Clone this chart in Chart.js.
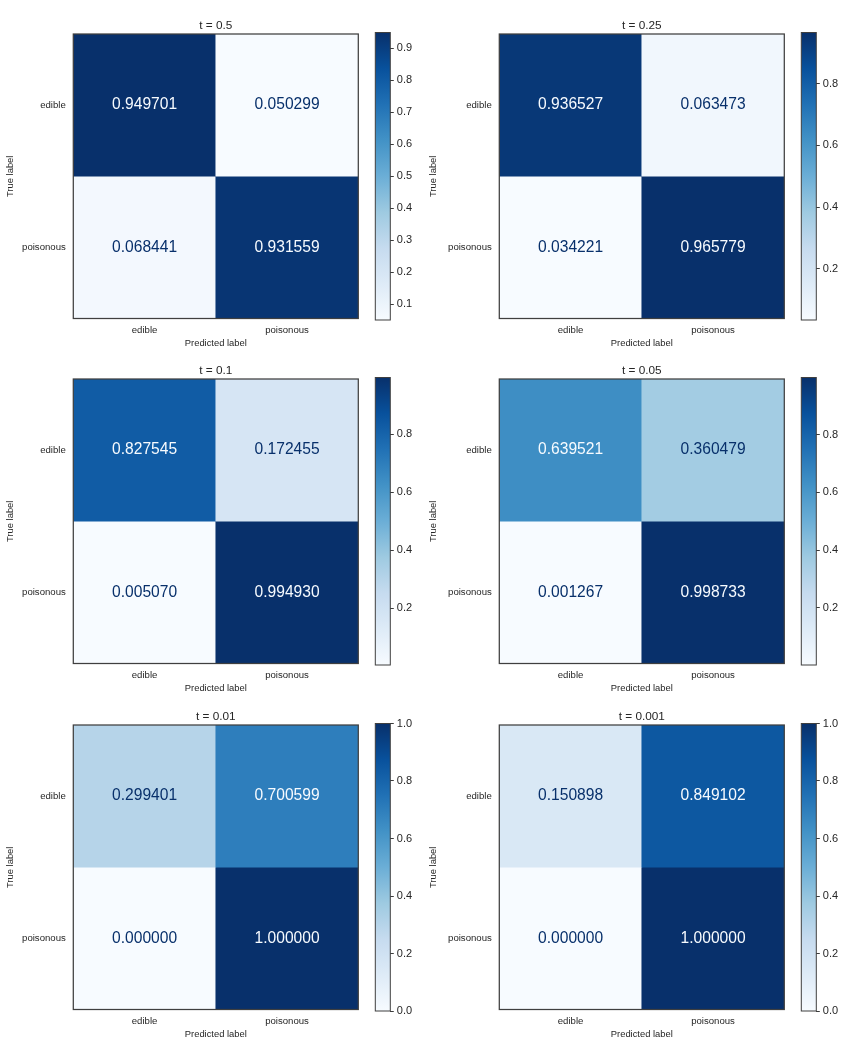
<!DOCTYPE html>
<html>
<head>
<meta charset="utf-8">
<script src="https://cdn.jsdelivr.net/npm/chart.js@4/dist/chart.umd.min.js"></script>
<style>
html, body { margin: 0; padding: 0; background: #ffffff; overflow: hidden; }
#fig { position: relative; width: 846px; height: 1045px; overflow: hidden; background: #ffffff; }
#fig canvas { position: absolute; }
</style>
</head>
<body>
<div id="fig"></div>
<script>
// ---------------- data ----------------
const categories = ['edible', 'poisonous'];
const panelTitles = ['t = 0.5', 't = 0.25', 't = 0.1', 't = 0.05', 't = 0.01', 't = 0.001'];

// rows = true label (edible, poisonous), columns = predicted label (edible, poisonous)
const cm_t0_5   = [[0.949701, 0.050299], [0.068441, 0.931559]];
const cm_t0_25  = [[0.936527, 0.063473], [0.034221, 0.965779]];
const cm_t0_1   = [[0.827545, 0.172455], [0.005070, 0.994930]];
const cm_t0_05  = [[0.639521, 0.360479], [0.001267, 0.998733]];
const cm_t0_01  = [[0.299401, 0.700599], [0.000000, 1.000000]];
const cm_t0_001 = [[0.150898, 0.849102], [0.000000, 1.000000]];

// colorbar tick labels
const cbTicks_t0_5   = [0.1, 0.2, 0.3, 0.4, 0.5, 0.6, 0.7, 0.8, 0.9];
const cbTicks_t0_25  = [0.2, 0.4, 0.6, 0.8];
const cbTicks_t0_1   = [0.2, 0.4, 0.6, 0.8];
const cbTicks_t0_05  = [0.2, 0.4, 0.6, 0.8];
const cbTicks_t0_01  = [0.0, 0.2, 0.4, 0.6, 0.8, 1.0];
const cbTicks_t0_001 = [0.0, 0.2, 0.4, 0.6, 0.8, 1.0];

const matrices = [cm_t0_5, cm_t0_25, cm_t0_1, cm_t0_05, cm_t0_01, cm_t0_001];
const cbTicks = [cbTicks_t0_5, cbTicks_t0_25, cbTicks_t0_1, cbTicks_t0_05, cbTicks_t0_01, cbTicks_t0_001];

// ---------------- styling / layout ----------------
const FONT = '"Liberation Sans", Arial, Helvetica, sans-serif';
const TXT = '#262626';
const EDGE = '#3f3f3f';
Chart.defaults.font.family = FONT;
Chart.defaults.color = TXT;

// matplotlib "Blues" colormap anchors
const BLUES = ['#f7fbff', '#deebf7', '#c6dbef', '#9ecae1', '#6baed6', '#4292c6', '#2171b5', '#08519c', '#08306b'];
function hex2rgb(h) { return [parseInt(h.slice(1, 3), 16), parseInt(h.slice(3, 5), 16), parseInt(h.slice(5, 7), 16)]; }
function blues(t) {
  t = Math.max(0, Math.min(1, t));
  const p = t * (BLUES.length - 1);
  const i = Math.min(Math.floor(p), BLUES.length - 2);
  const f = p - i;
  const a = hex2rgb(BLUES[i]), b = hex2rgb(BLUES[i + 1]);
  const c = a.map((v, k) => Math.round(v + (b[k] - v) * f));
  return 'rgb(' + c.join(',') + ')';
}

const colLeft = [0, 423];        // matrix canvas left per column
const yAxisW = [73.3, 76.3];     // width of the left (tick label) area per column
const plotW = 285;
const rowTop = [0, 345, 691];    // canvas top per row
const CANVAS_H = 349;
const TITLE_H = 34;              // title box height -> plot top
const XAXIS_H = 30;
const cbLeft = [362, 788];
const CB_W = 58;
const TITLE_SIZE = 11.8;
const TITLE_GAP = 8;             // from title centre to plot top

const fig = document.getElementById('fig');
function addCanvas(left, top, w, h) {
  const c = document.createElement('canvas');
  c.width = w; c.height = h;
  c.style.left = left + 'px'; c.style.top = top + 'px';
  c.style.width = w + 'px'; c.style.height = h + 'px';
  fig.appendChild(c);
  return c;
}

const cellPlugin = {
  id: 'cellPlugin',
  afterDatasetsDraw(chart) {
    const ctx = chart.ctx;
    const thr = chart.options.plugins.cellPlugin.thresh;
    ctx.save();
    ctx.font = '15.6px ' + FONT;
    ctx.textAlign = 'center';
    ctx.textBaseline = 'middle';
    chart.data.datasets.forEach((ds, di) => {
      const meta = chart.getDatasetMeta(di);
      meta.data.forEach((bar, j) => {
        const v = ds.values[j];
        ctx.fillStyle = v < thr ? BLUES[8] : BLUES[0];
        ctx.fillText(v.toFixed(6), bar.x, (bar.y + bar.base) / 2);
      });
    });
    ctx.restore();
  },
  afterDraw(chart) {
    const a = chart.chartArea, ctx = chart.ctx;
    ctx.save();
    ctx.strokeStyle = EDGE;
    ctx.lineWidth = chart.options.plugins.cellPlugin.edge;
    ctx.strokeRect(a.left, a.top, a.right - a.left, a.bottom - a.top);
    ctx.restore();
  }
};

function makeMatrix(k) {
  const cm = matrices[k];
  const col = k % 2, row = Math.floor(k / 2);
  const flat = cm.flat();
  const vmin = Math.min(...flat), vmax = Math.max(...flat);
  const yw = yAxisW[col];
  const W = Math.ceil(yw * 2 + plotW);
  const canvas = addCanvas(colLeft[col], rowTop[row], W, CANVAS_H);
  const tickFont = { family: FONT, size: 9.6 };
  const halfTitle = TITLE_SIZE * 1.2 / 2;
  new Chart(canvas, {
    type: 'bar',
    data: {
      labels: categories,
      datasets: cm.map((rowVals, i) => ({
        label: categories[i],
        xAxisID: 'x', yAxisID: 'y',
        data: rowVals.map(() => [i - 0.5, i + 0.5]),
        values: rowVals,
        backgroundColor: rowVals.map(v => blues((v - vmin) / (vmax - vmin))),
        borderWidth: 0,
        barPercentage: 1, categoryPercentage: 1, grouped: false
      }))
    },
    options: {
      responsive: false, animation: false, maintainAspectRatio: false,
      devicePixelRatio: 1,
      events: [],
      layout: { padding: { left: 0, right: W - (yw * 2 + plotW), top: 0, bottom: 0.5 } },
      plugins: {
        legend: { display: false }, tooltip: { enabled: false },
        title: {
          display: true, text: panelTitles[k], color: TXT,
          font: { family: FONT, size: TITLE_SIZE, weight: 'normal' },
          padding: { top: TITLE_H - TITLE_GAP - halfTitle, bottom: TITLE_GAP - halfTitle }
        },
        cellPlugin: { thresh: (vmin + vmax) / 2, edge: 1.25 }
      },
      scales: {
        x: {
          type: 'category', position: 'bottom',
          grid: { display: false, drawTicks: false }, border: { display: false },
          ticks: { font: tickFont, color: TXT, padding: 6.5, maxRotation: 0, autoSkip: false },
          title: { display: true, text: 'Predicted label', color: TXT, font: { family: FONT, size: 9.4 }, padding: { top: 0, bottom: -0.5 } },
          afterFit: s => { s.height = XAXIS_H; }
        },
        y: {
          type: 'linear', position: 'left', reverse: true, min: -0.5, max: 1.5,
          grid: { display: false, drawTicks: false }, border: { display: false },
          afterBuildTicks: s => { s.ticks = categories.map((c, i) => ({ value: i })); },
          ticks: { font: tickFont, color: TXT, padding: 7.5, callback: v => categories[v] },
          title: { display: true, text: 'True label', color: TXT, font: { family: FONT, size: 9.4 }, padding: { top: 4.3, bottom: 0 } },
          afterFit: s => { s.width = yw; }
        },
        yr: {
          type: 'linear', position: 'right', display: true,
          grid: { display: false, drawTicks: false }, border: { display: false },
          ticks: { display: false },
          afterFit: s => { s.width = yw; }
        }
      }
    },
    plugins: [cellPlugin]
  });
}

const cbPlugin = {
  id: 'cbPlugin',
  afterDraw(chart) {
    const a = chart.chartArea, ctx = chart.ctx;
    ctx.save();
    ctx.strokeStyle = EDGE;
    ctx.lineWidth = 1;
    ctx.strokeRect(a.left, a.top, a.right - a.left, a.bottom - a.top);
    ctx.restore();
  }
};

function makeColorbar(k) {
  const cm = matrices[k];
  const col = k % 2, row = Math.floor(k / 2);
  const flat = cm.flat();
  const vmin = Math.min(...flat), vmax = Math.max(...flat);
  const ticks = cbTicks[k];
  const canvas = addCanvas(cbLeft[col], rowTop[row], CB_W, CANVAS_H);
  const padL = (col === 0 ? 375.3 - cbLeft[0] : 801.3 - cbLeft[1]);
  const axisW = 29;
  new Chart(canvas, {
    type: 'bar',
    data: {
      labels: [''],
      datasets: [{
        data: [[vmin, vmax]],
        backgroundColor: (ctx) => {
          const ch = ctx.chart, a = ch.chartArea;
          if (!a) return BLUES[4];
          const g = ch.ctx.createLinearGradient(0, a.bottom, 0, a.top);
          BLUES.forEach((c, i) => g.addColorStop(i / (BLUES.length - 1), c));
          return g;
        },
        borderWidth: 0,
        barPercentage: 1, categoryPercentage: 1
      }]
    },
    options: {
      responsive: false, animation: false, maintainAspectRatio: false,
      devicePixelRatio: 1,
      events: [],
      layout: { padding: { left: padL, right: CB_W - padL - 15 - axisW, top: TITLE_H - 1.5, bottom: CANVAS_H - (TITLE_H + 284.5 + 1.5) } },
      plugins: { legend: { display: false }, tooltip: { enabled: false } },
      scales: {
        x: { display: false },
        y: {
          position: 'right', min: vmin, max: vmax,
          grid: { display: true, drawOnChartArea: false, drawTicks: true, tickLength: 3.5, color: TXT, lineWidth: 0.9 },
          border: { display: false },
          afterBuildTicks: s => { s.ticks = ticks.map(v => ({ value: v })); },
          ticks: { font: { family: FONT, size: 11 }, color: TXT, padding: 3, callback: v => Number(v).toFixed(1) },
          afterFit: s => { s.width = axisW; }
        }
      }
    },
    plugins: [cbPlugin]
  });
}

for (let k = 0; k < matrices.length; k++) {
  makeMatrix(k);
  makeColorbar(k);
}
</script>
</body>
</html>
